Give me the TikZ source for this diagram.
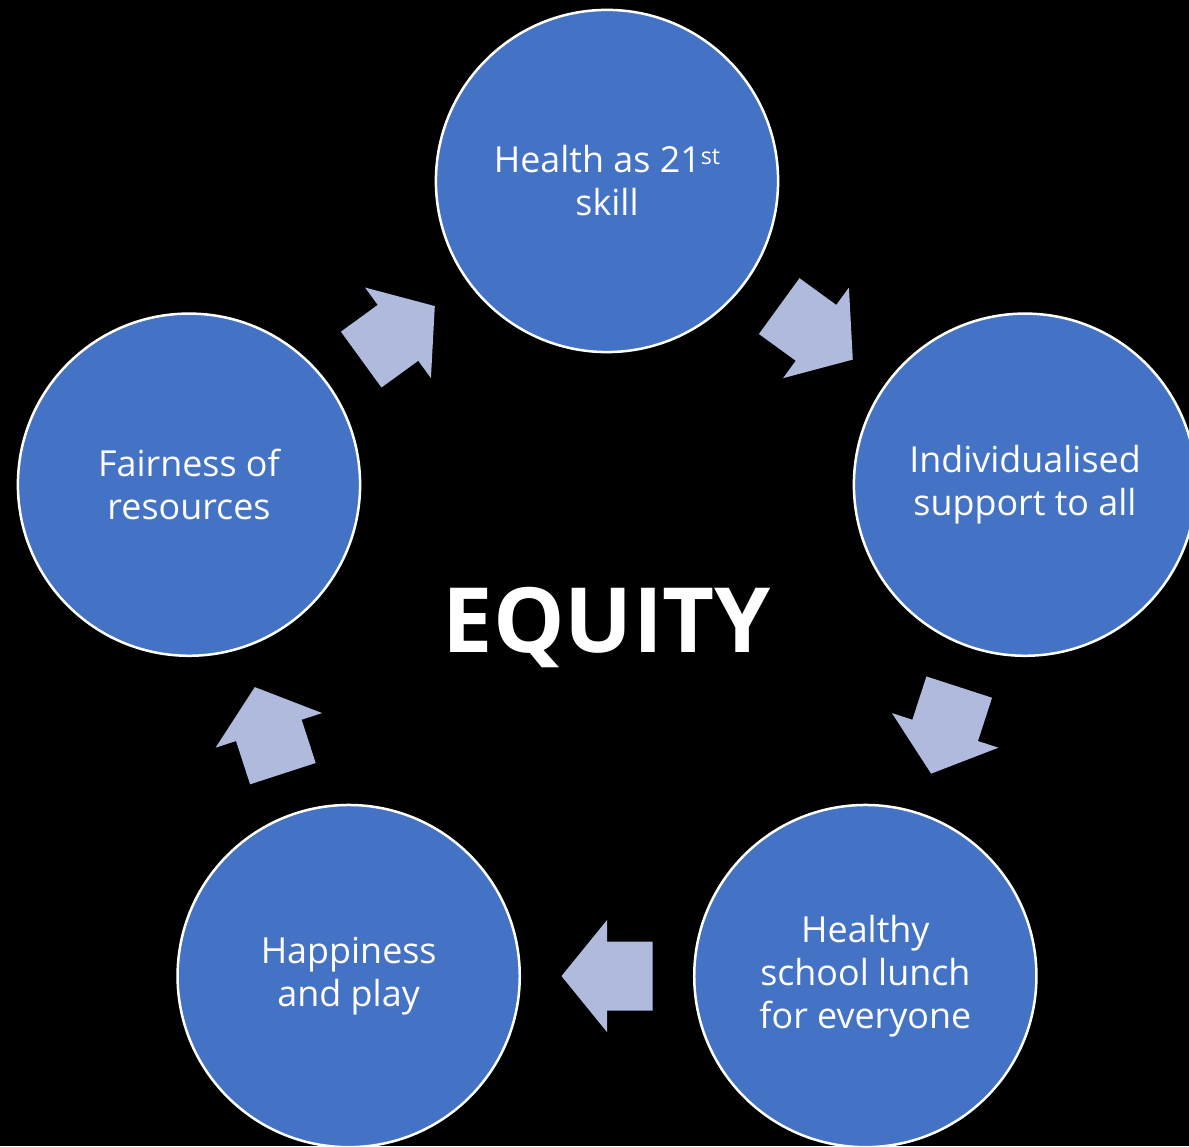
\documentclass[tikz,border=0pt]{standalone}
\usepackage{fontspec}
\setmainfont{Open Sans}
\usepackage{tikz}
\usetikzlibrary{calc,positioning}
\definecolor{bubblue}{HTML}{4472C4}
\definecolor{arrowblue}{HTML}{AFBADC}
\newcommand{\ordsup}[1]{\raisebox{2.4pt}{\fontsize{6.6}{6.6}\selectfont #1}}
\tikzset{
    bubble/.style={
    circle,draw=white,line width=0.025cm,fill=bubblue,minimum size=3.42cm,inner sep=0pt,text=white,align=center,font=\fontsize{10.2}{12.2}\selectfont
    },
    title/.style={
    text=white,inner sep=0pt,font=\fontsize{25.6}{30}\selectfont\bfseries
    },
    blockarrow/.pic={
    \fill[arrowblue] (-45.5,-34.5) -- (0,-34.5) -- (0,-56) -- (45.5,0) -- (0,56) -- (0,34.5) -- (-45.5,34.5) -- cycle;
    },
    flow/.style={midway,sloped,allow upside down}
}
\begin{document}
\begin{tikzpicture}[x=0.01cm,y=0.01cm]
    \useasboundingbox (-607,-525.5) rectangle (582,620.5);
    \clip (-607,-525.5) rectangle (582,620.5);
    \fill[black] (-607,-525.5) rectangle (582,620.5);

    \node[title,anchor=base] (equity) at (0,-31.5) {EQUITY};

    \node[bubble] (health) at (90:439.5) {Health as 21\ordsup{st}\\ skill};
    \node[bubble] (support) at (18:439.5) {Individualised\\ support to all};
    \node[bubble] (lunch) at (-54:439.5) {Healthy\\ school lunch\\ for everyone};
    \node[bubble] (play) at (-126:439.5) {Happiness\\ and play};
    \node[bubble] (fair) at (162:439.5) {Fairness of\\ resources};

    \path (health) -- (support) pic[flow] {blockarrow};
    \path (support) -- (lunch) pic[flow] {blockarrow};
    \path (lunch) -- (play) pic[flow] {blockarrow};
    \path (play) -- (fair) pic[flow] {blockarrow};
    \path (fair) -- (health) pic[flow] {blockarrow};
\end{tikzpicture}
\end{document}
